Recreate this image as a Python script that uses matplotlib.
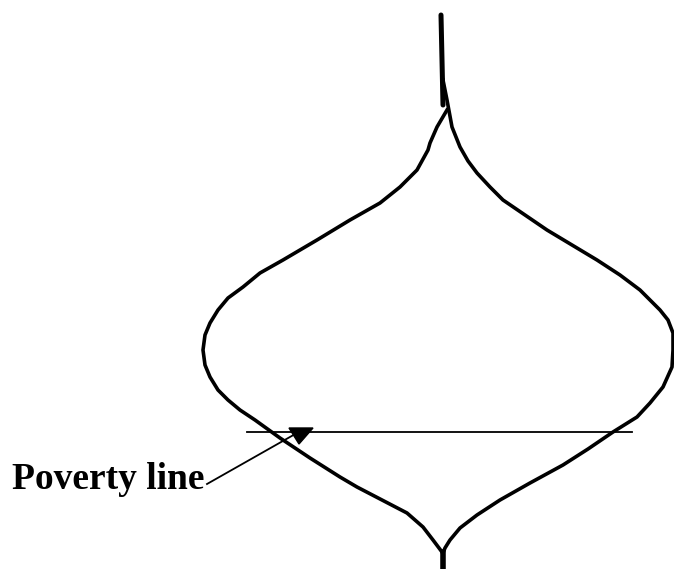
import numpy as np
import matplotlib.pyplot as plt

# outline of the distribution (pixel coordinates of the drawing)
left_x = [447, 437, 430, 428, 417, 400, 380, 350, 317, 283, 260, 243, 228, 218, 210, 205, 203,
          205, 210, 218, 228, 240, 255, 280, 310, 340, 357, 382, 407, 423, 433, 442]
left_y = [110, 127, 143, 150, 170, 187, 203, 220, 240, 260, 273, 287, 298, 310, 323, 335, 350,
          365, 377, 390, 400, 410, 420, 438, 458, 477, 487, 500, 513, 527, 540, 552]
right_x = [443, 447, 452, 460, 468, 477, 490, 503, 525, 547, 572, 597, 620, 640, 660, 668, 673,
           673, 672, 663, 650, 637, 613, 588, 563, 530, 500, 477, 460, 450, 445, 443]
right_y = [80, 100, 127, 147, 161, 173, 187, 200, 215, 230, 245, 260, 275, 290, 310, 320, 333,
           350, 367, 387, 403, 417, 432, 449, 465, 483, 500, 515, 528, 540, 548, 553]

top_spike_x = [441, 443]
top_spike_y = [15, 105]
bottom_spike_x = [443, 443]
bottom_spike_y = [552, 569]

poverty_x = [247, 632]
poverty_y = [432, 432]

label = 'Poverty line'
arrow_x = [207, 297]
arrow_y = [484, 433]
head_x = [289, 313, 299]
head_y = [428, 428, 444]

fig = plt.figure(figsize=(6.74, 5.69), dpi=100)
ax = fig.add_axes([0, 0, 1, 1])
ax.set_xlim(0, 674)
ax.set_ylim(569, 0)
ax.axis('off')

ax.plot(left_x, left_y, color='black', lw=2.6, solid_joinstyle='round')
ax.plot(right_x, right_y, color='black', lw=2.6, solid_joinstyle='round')
ax.plot(top_spike_x, top_spike_y, color='black', lw=3.6, solid_capstyle='round')
ax.plot(bottom_spike_x, bottom_spike_y, color='black', lw=4)

ax.plot(poverty_x, poverty_y, color='black', lw=1.3)

ax.plot(arrow_x, arrow_y, color='black', lw=1.3)
ax.fill(head_x, head_y, color='black')

ax.text(12, 489, label, fontsize=27, fontweight='bold', family='Liberation Serif',
        ha='left', va='baseline')

fig.savefig('out.png', dpi=100)
